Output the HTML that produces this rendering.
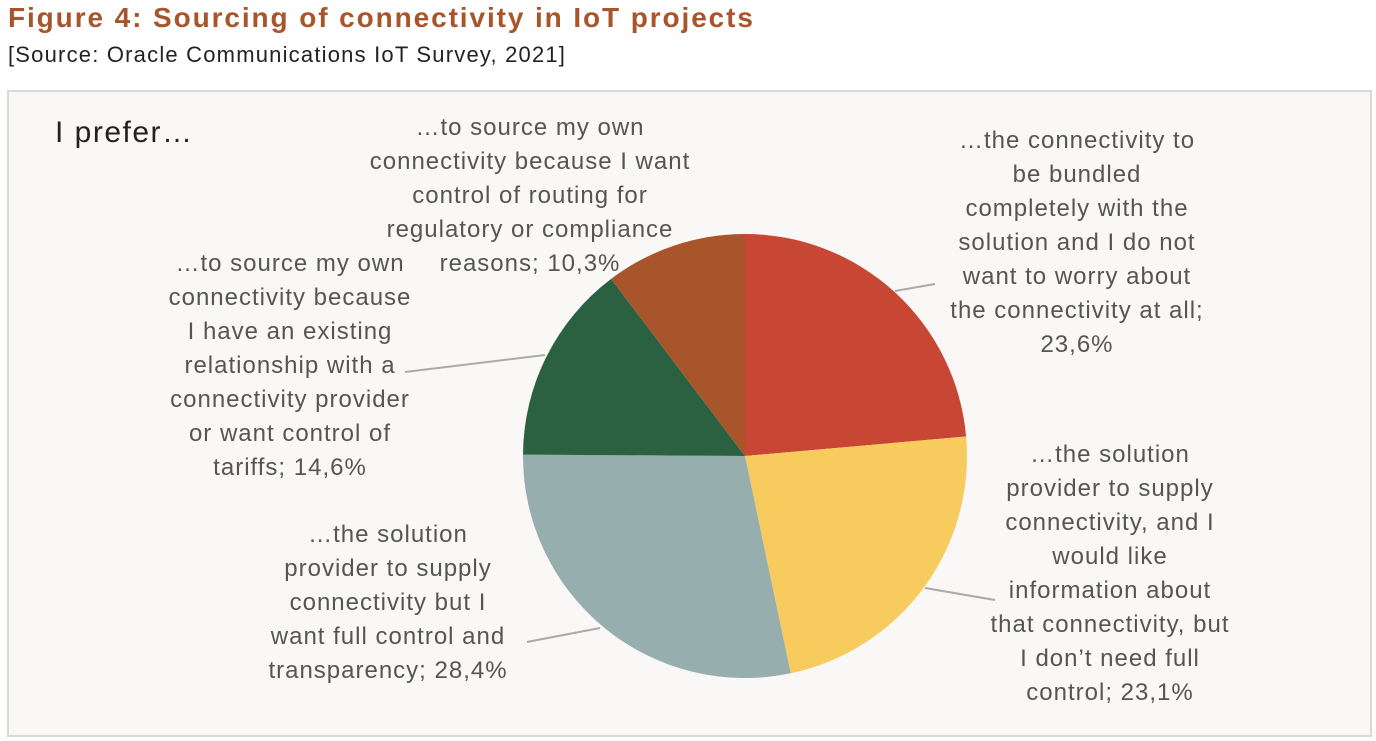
<!DOCTYPE html>
<html><head><meta charset="utf-8"><style>
body{margin:0;width:1376px;height:741px;background:#fff;font-family:"Liberation Sans",sans-serif;overflow:hidden;position:relative}
.t{position:absolute;left:8px;top:2px;font-size:28px;letter-spacing:1.9px;font-weight:bold;color:#A8552C;white-space:nowrap}
.s{position:absolute;left:8px;top:42px;font-size:22px;letter-spacing:1.2px;color:#222;white-space:nowrap}
.frame{position:absolute;left:7px;top:90px;width:1361px;height:643px;border:2px solid #d9d9d9;background:#f9f8f6}
.l{position:absolute;font-size:24px;letter-spacing:1px;color:#555;text-align:center;line-height:34px;white-space:nowrap;transform:translateX(-50%)}
</style></head><body>
<div class="t">Figure 4: Sourcing of connectivity in IoT projects</div>
<div class="s">[Source: Oracle Communications IoT Survey, 2021]</div>
<div class="frame"></div>
<svg width="1376" height="741" style="position:absolute;left:0;top:0">
<path d="M745,456 L745,234 A222,222 0 0 1 966.1,436.5 Z" fill="#C84634"/>
<path d="M745,456 L966.1,436.5 A222,222 0 0 1 790.7,673.3 Z" fill="#F8CB5E"/>
<path d="M745,456 L790.7,673.3 A222,222 0 0 1 523,454.6 Z" fill="#96AEAE"/>
<path d="M745,456 L523,454.6 A222,222 0 0 1 611.1,278.9 Z" fill="#2A6141"/>
<path d="M745,456 L611.1,278.9 A222,222 0 0 1 745,234 Z" fill="#A8552C"/>
<g stroke="#aaa" stroke-width="2" fill="none">
<polyline points="895,291 935,284"/>
<polyline points="925,588 995,600"/>
<polyline points="527,642 600,628"/>
<polyline points="405,372 545,355"/>
</g>
</svg>
<div class="l" style="left:55px;top:116px;font-size:30px;letter-spacing:1.5px;color:#222;transform:none">I prefer…</div>
<div class="l" style="left:530px;top:111px">…to source my own<br>connectivity because I want<br>control of routing for<br>regulatory or compliance<br>reasons; 10,3%</div>
<div class="l" style="left:1077px;top:124px">…the connectivity to<br>be bundled<br>completely with the<br>solution and I do not<br>want to worry about<br>the connectivity at all;<br>23,6%</div>
<div class="l" style="left:290px;top:247px">…to source my own<br>connectivity because<br>I have an existing<br>relationship with a<br>connectivity provider<br>or want control of<br>tariffs; 14,6%</div>
<div class="l" style="left:1110px;top:438px">…the solution<br>provider to supply<br>connectivity, and I<br>would like<br>information about<br>that connectivity, but<br>I don’t need full<br>control; 23,1%</div>
<div class="l" style="left:388px;top:518px">…the solution<br>provider to supply<br>connectivity but I<br>want full control and<br>transparency; 28,4%</div>
</body></html>
